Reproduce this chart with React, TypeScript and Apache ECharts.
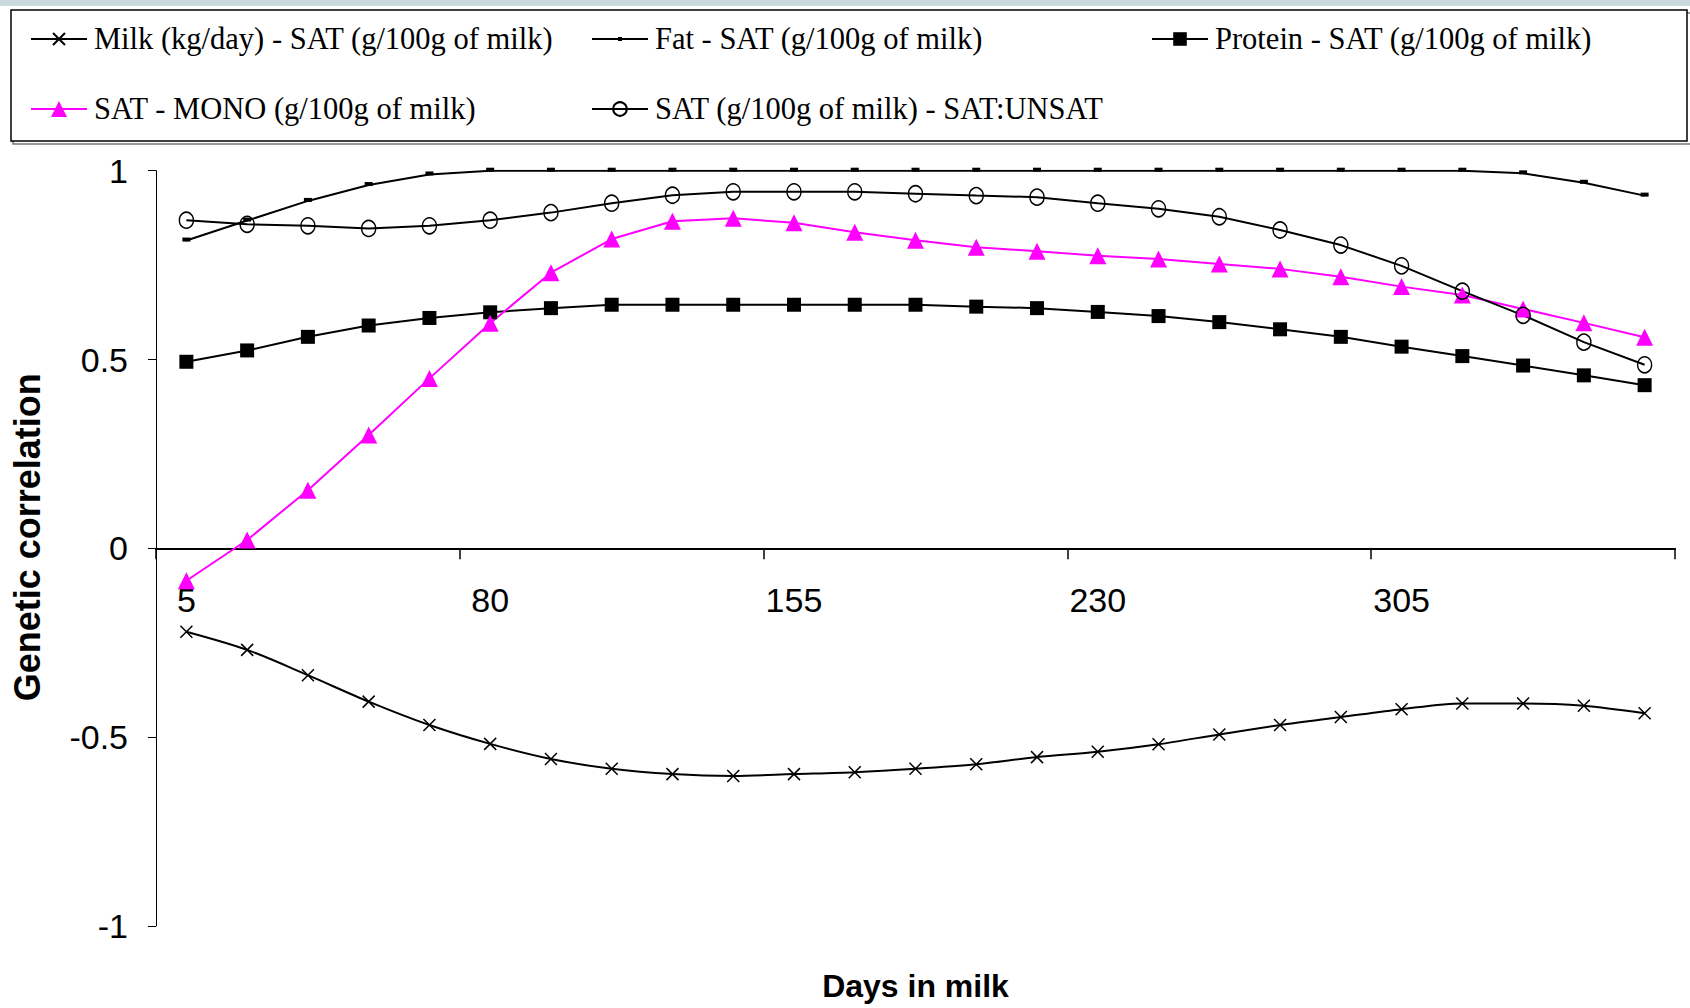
import React, { useEffect, useRef } from "react";
import * as echarts from "echarts";

const days = ["5","20","35","50","65","80","95","110","125","140","155","170","185","200","215","230","245","260","275","290","305","320","335","350","365"];
const milk = [-0.221,-0.269,-0.336,-0.406,-0.468,-0.518,-0.558,-0.584,-0.598,-0.603,-0.598,-0.593,-0.584,-0.572,-0.553,-0.539,-0.519,-0.493,-0.468,-0.447,-0.426,-0.411,-0.411,-0.417,-0.437];
const fat = [0.815,0.868,0.92,0.962,0.99,1,1,1,1,1,1,1,1,1,1,1,1,1,1,1,1,1,0.993,0.968,0.934];
const protein = [0.494,0.524,0.56,0.59,0.61,0.625,0.636,0.645,0.645,0.645,0.645,0.645,0.645,0.64,0.636,0.626,0.615,0.599,0.58,0.56,0.534,0.509,0.484,0.458,0.432];
const mono = [-0.086,0.022,0.154,0.3,0.45,0.596,0.73,0.819,0.866,0.874,0.862,0.837,0.816,0.797,0.787,0.775,0.766,0.753,0.74,0.719,0.693,0.671,0.634,0.597,0.559];
const satUnsat = [0.869,0.858,0.854,0.847,0.854,0.869,0.889,0.914,0.935,0.944,0.944,0.944,0.939,0.934,0.93,0.914,0.899,0.878,0.843,0.803,0.748,0.681,0.617,0.546,0.486];

const names = [
  "Milk (kg/day) - SAT (g/100g of milk)",
  "Fat - SAT (g/100g of milk)",
  "Protein - SAT (g/100g of milk)",
  "SAT - MONO (g/100g of milk)",
  "SAT (g/100g of milk) - SAT:UNSAT",
];

const SANS = "'Liberation Sans', Arial, sans-serif";
const SERIF = "'Liberation Serif', 'Times New Roman', serif";

const GRID_TOP = 170.7;
const GRID_BOTTOM = 82.1;
const GRID_H = 1008 - GRID_TOP - GRID_BOTTOM;

export default function App() {
  const ref = useRef<HTMLDivElement>(null);
  useEffect(() => {
    if (!ref.current) return;
    const chart = echarts.init(ref.current, null, { renderer: "svg" });
    const legendText = { fontFamily: SERIF, fontSize: 30.5, color: "#000", lineHeight: 34, padding: [0, 0, 0, 2] };
    const mkLegend = (name: string, left: number, top: number, itemHeight: number) => ({
      data: [name],
      left,
      top,
      padding: 0,
      itemWidth: 56,
      itemHeight,
      selectedMode: false,
      textStyle: legendText,
    });
    const option: any = {
      animation: false,
      backgroundColor: "#fff",
      graphic: [
        { type: "rect", shape: { x: 0, y: 0, width: 1690, height: 6 }, style: { fill: "#c9d9dc" }, z: 0 },
        { type: "rect", shape: { x: 13, y: 13, width: 1680, height: 131 }, style: { fill: "none", stroke: "#777", lineWidth: 1.5 }, z: 0 },
        { type: "rect", shape: { x: 11, y: 10, width: 1676, height: 131 }, style: { fill: "#fff", stroke: "#000", lineWidth: 1.5 }, z: 1 },
      ],
      legend: [
        mkLegend(names[0], 30, 22, 15),
        mkLegend(names[1], 591, 22, 5),
        mkLegend(names[2], 1151, 22, 17),
        mkLegend(names[3], 30, 92, 20),
        mkLegend(names[4], 591, 92, 17),
      ],
      grid: { left: 156, right: 15, top: GRID_TOP, bottom: GRID_BOTTOM, containLabel: false, outerBoundsMode: "none" },
      xAxis: {
        type: "category",
        data: days,
        boundaryGap: true,
        position: "bottom",
        offset: -GRID_H / 2,
        name: "Days in milk",
        nameLocation: "middle",
        nameGap: 422,
        nameTextStyle: { fontFamily: SANS, fontWeight: "bold", fontSize: 32, color: "#000" },
        axisLine: { onZero: false, lineStyle: { color: "#000", width: 2 } },
        axisTick: { show: true, interval: 4, length: 11, inside: false, lineStyle: { color: "#000", width: 1.5 } },
        axisLabel: { interval: 4, margin: 35, fontFamily: SANS, fontSize: 34, color: "#000" },
        splitLine: { show: false },
      },
      yAxis: {
        type: "value",
        min: -1,
        max: 1,
        interval: 0.5,
        name: "Genetic correlation",
        nameLocation: "middle",
        nameGap: 111,
        nameTextStyle: { fontFamily: SANS, fontWeight: "bold", fontSize: 36, color: "#000", padding: [0, 0, 0, 22] },
        axisLine: { show: true, lineStyle: { color: "#000", width: 1 } },
        axisTick: { show: true, length: 8, lineStyle: { color: "#000", width: 1 } },
        axisLabel: { margin: 28, fontFamily: SANS, fontSize: 34, color: "#000" },
        splitLine: { show: false },
      },
      series: [
        {
          name: names[0], type: "line", data: milk, smooth: 0.3,
          symbol: "path://M0,0L10,10M10,0L0,10", symbolSize: 12,
          lineStyle: { color: "#000", width: 2 },
          itemStyle: { color: "#000", borderColor: "#000", borderWidth: 1.5 },
        },
        {
          name: names[1], type: "line", data: fat,
          symbol: "rect", symbolSize: [8, 4], symbolOffset: [0, -1],
          lineStyle: { color: "#000", width: 2 },
          itemStyle: { color: "#000" },
        },
        {
          name: names[2], type: "line", data: protein,
          symbol: "rect", symbolSize: 14,
          lineStyle: { color: "#000", width: 2 },
          itemStyle: { color: "#000" },
        },
        {
          name: names[3], type: "line", data: mono,
          symbol: "triangle", symbolSize: [17, 17],
          lineStyle: { color: "#ff00ff", width: 2 },
          itemStyle: { color: "#ff00ff" },
        },
        {
          name: names[4], type: "line", data: satUnsat,
          symbol: "circle", symbolSize: [14, 16],
          lineStyle: { color: "#000", width: 2 },
          itemStyle: { color: "rgba(255,255,255,0)", borderColor: "#000", borderWidth: 1.5 },
        },
      ],
    };
    chart.setOption(option);
    return () => chart.dispose();
  }, []);
  return <div ref={ref} style={{ width: 1690, height: 1008, position: "absolute", left: 0, top: 0 }} />;
}
